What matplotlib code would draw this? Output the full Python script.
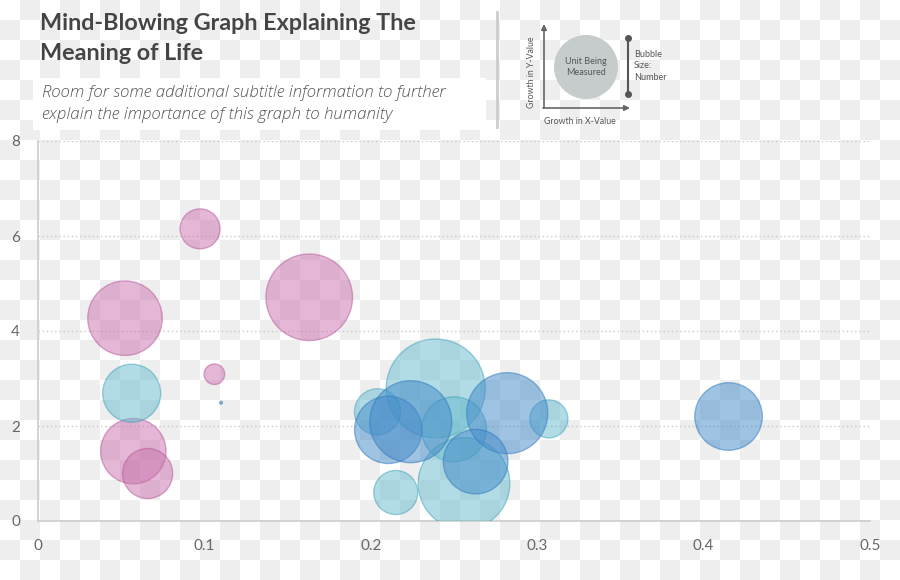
import numpy as np
import matplotlib.pyplot as plt
from matplotlib.patches import Circle, Rectangle

# bubble series: x growth, y growth, bubble size (number)
pink_x = [0.0974, 0.0523, 0.163, 0.106, 0.0573, 0.0659]
pink_y = [6.15, 4.27, 4.71, 3.09, 1.47, 1.00]
pink_size = [400, 1390, 1875, 106, 1070, 625]

cyan_x = [0.0563, 0.239, 0.204, 0.250, 0.307, 0.256, 0.215]
cyan_y = [2.69, 2.79, 2.30, 1.93, 2.15, 0.79, 0.60]
cyan_size = [841, 2450, 529, 1056, 361, 2098, 484]

blue_x = [0.2105, 0.224, 0.282, 0.263, 0.415, 0.110]
blue_y = [1.92, 2.09, 2.27, 1.25, 2.20, 2.49]
blue_size = [1136, 1681, 1640, 1043, 1142, 2]

x_ticks = [0, 0.1, 0.2, 0.3, 0.4, 0.5]
x_labels = ['0', '0.1', '0.2', '0.3', '0.4', '0.5']
y_ticks = [0, 2, 4, 6, 8]
y_labels = ['0', '2', '4', '6', '8']

title = 'Mind-Blowing Graph Explaining The\nMeaning of Life'
subtitle = ('Room for some additional subtitle information to further\n'
            'explain the importance of this graph to humanity')

W, H = 900, 580
fig = plt.figure(figsize=(W / 100, H / 100), dpi=100)

# background overlay in pixel coordinates
bg = fig.add_axes([0, 0, 1, 1], zorder=-5)
ii, jj = np.meshgrid(np.arange(W // 20 + 1), np.arange(H // 20 + 1))
checker = np.where((ii + jj) % 2 == 1, 0.933, 1.0)
bg.imshow(checker, cmap='gray', vmin=0, vmax=1, extent=[0, (W // 20 + 1) * 20, (H // 20 + 1) * 20, 0],
          interpolation='nearest', aspect='auto')
bg.set_xlim(0, W)
bg.set_ylim(H, 0)
bg.axis('off')

# title block
bg.text(40, 13, title, fontsize=16.8, family='Lato', weight='bold', color='#454545',
        va='top', ha='left', linespacing=1.55)
bg.add_patch(Rectangle((33, 78), 453, 52, facecolor='white', edgecolor='none'))
bg.text(42, 104, subtitle, fontsize=12.2, family='Open Sans', style='italic', weight='light',
        color='#555555', va='center', ha='left', linespacing=1.5)
bg.plot([497, 497], [12, 127], color='#cccccc', lw=2)

# legend sketch
lc = '#666666'
bg.annotate('', xy=(544, 24), xytext=(544, 108),
            arrowprops=dict(arrowstyle='-|>', color=lc, lw=1.2, mutation_scale=8, shrinkA=0, shrinkB=0))
bg.annotate('', xy=(630, 108), xytext=(543, 108),
            arrowprops=dict(arrowstyle='-|>', color=lc, lw=1.2, mutation_scale=8, shrinkA=0, shrinkB=0))
bg.text(532, 72, 'Growth in Y-Value', rotation=90, fontsize=6.3, family='Lato', color='#555555',
        ha='center', va='center')
bg.text(580, 122, 'Growth in X-Value', fontsize=6.3, family='Lato', color='#555555',
        ha='center', va='center')
bg.add_patch(Circle((586, 67), 32, facecolor='#c6cccc', edgecolor='none'))
bg.text(586, 67, 'Unit Being\nMeasured', fontsize=6.5, family='Lato', color='#555555',
        ha='center', va='center', linespacing=1.3)
bg.plot([628, 628], [38, 94], color='#555555', lw=1.5)
bg.plot([628, 628], [38, 94], 'o', color='#555555', ms=4)
bg.text(634, 66, 'Bubble\nSize:\nNumber', fontsize=6.5, family='Lato', color='#555555',
        ha='left', va='center', linespacing=1.3)

# main chart
ax = fig.add_axes([38 / W, 1 - 521 / H, (870 - 38) / W, (521 - 141) / H])
ax.set_facecolor('none')
k = 2.0736
ax.scatter(pink_x, pink_y, s=np.array(pink_size) * k, color='#c971ad', alpha=0.5,
           edgecolors='#b8559a', linewidths=1, zorder=3)
ax.scatter(cyan_x, cyan_y, s=np.array(cyan_size) * k, color='#65b9cd', alpha=0.5,
           edgecolors='#3fa3bd', linewidths=1, zorder=3)
ax.scatter(blue_x, blue_y, s=np.array(blue_size) * k, color='#4189c9', alpha=0.5,
           edgecolors='#2f78bd', linewidths=1, zorder=4)

ax.set_xlim(0, 0.5)
ax.set_ylim(0, 8)
ax.set_xticks(x_ticks)
ax.set_xticklabels(x_labels)
ax.set_yticks(y_ticks)
ax.set_yticklabels(y_labels)
ax.tick_params(length=0, labelsize=11, labelcolor='#666666')
ax.tick_params(axis='x', pad=13)
ax.tick_params(axis='y', pad=13)
for lab in ax.get_xticklabels() + ax.get_yticklabels():
    lab.set_family('Lato')
ax.grid(axis='y', linestyle=(0, (1, 2)), color='#c8c8c8', lw=1)
ax.set_axisbelow(True)
for side in ['top', 'right']:
    ax.spines[side].set_visible(False)
for side in ['left', 'bottom']:
    ax.spines[side].set_color('#cccccc')
    ax.spines[side].set_linewidth(1.2)

fig.savefig('out.png', dpi=100)
